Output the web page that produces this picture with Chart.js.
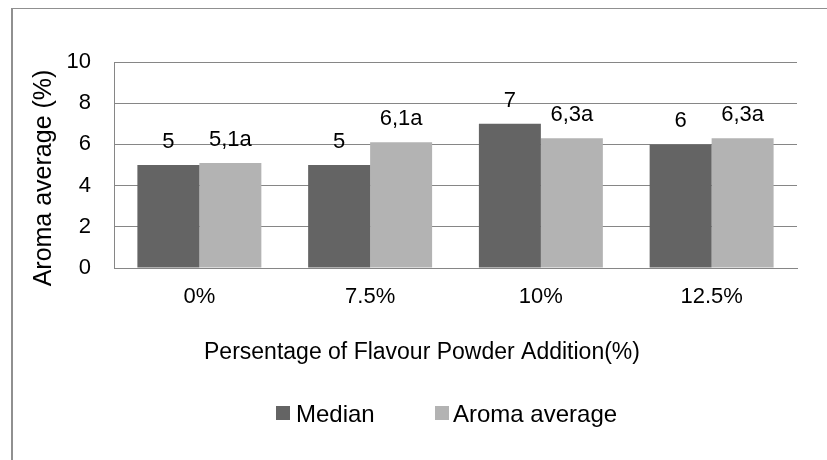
<!DOCTYPE html>
<html>
<head>
<meta charset="utf-8">
<script src="https://cdn.jsdelivr.net/npm/chart.js@4.4.0/dist/chart.umd.min.js"></script>
<style>
    html, body { margin: 0; padding: 0; background: #fff; }
    #wrap { position: relative; width: 827px; height: 460px; overflow: hidden; }
    #frame {
        position: absolute; left: 11px; top: 8px; width: 900px; height: 500px;
        border-left: 2px solid #909090; border-top: 1px solid #909090;
    }
    canvas { position: absolute; left: 0; top: 0; }
</style>
</head>
<body>
<div id="wrap">
    <div id="frame"></div>
    <canvas id="chart" width="827" height="460"></canvas>
</div>
<script>
// Chart data
const categories = ['0%', '7.5%', '10%', '12.5%'];
const medianValues = [5, 5, 7, 6];
const aromaValues = [5.1, 6.1, 6.3, 6.3];
const medianLabels = ['5', '5', '7', '6'];
const aromaLabels = ['5,1a', '6,1a', '6,3a', '6,3a'];
const seriesNames = ['Median', 'Aroma average'];
const xTitle = 'Persentage of Flavour Powder Addition(%)';
const yTitle = 'Aroma average (%)';

const FONT = '"Liberation Sans", Arial, sans-serif';
const GRID = '#868686';
const COLORS = ['#646464', '#b3b3b3'];

// Value labels, axis titles and legend drawn on top of the bars
const annotate = {
    id: 'annotate',
    afterDatasetsDraw(chart) {
        const ctx = chart.ctx;
        ctx.save();
        ctx.fillStyle = '#000';
        ctx.font = '22px ' + FONT;
        ctx.textAlign = 'center';
        ctx.textBaseline = 'alphabetic';

        [medianLabels, aromaLabels].forEach((labels, di) => {
            chart.getDatasetMeta(di).data.forEach((bar, i) => {
                ctx.fillText(labels[i], bar.x, bar.y - 17);
            });
        });

        // x axis title
        ctx.font = '23px ' + FONT;
        ctx.fillText(xTitle, 422, 359);

        // y axis title
        ctx.save();
        ctx.font = '25px ' + FONT;
        ctx.translate(51, 178);
        ctx.rotate(-Math.PI / 2);
        ctx.fillText(yTitle, 0, 0);
        ctx.restore();

        // legend
        ctx.font = '24px ' + FONT;
        ctx.textAlign = 'left';
        const items = [[276, 296], [435, 453]];
        items.forEach(([bx, tx], i) => {
            ctx.fillStyle = COLORS[i];
            ctx.fillRect(bx, 406, 14, 14);
            ctx.fillStyle = '#000';
            ctx.fillText(seriesNames[i], tx, 422);
        });
        ctx.restore();
    }
};

new Chart(document.getElementById('chart'), {
    type: 'bar',
    data: {
        labels: categories,
        datasets: [
            { label: seriesNames[0], data: medianValues, backgroundColor: COLORS[0] },
            { label: seriesNames[1], data: aromaValues, backgroundColor: COLORS[1] }
        ]
    },
    options: {
        responsive: false,
        animation: false,
        layout: { padding: { top: 62, right: 30, left: 0, bottom: 72 } },
        datasets: {
            bar: { categoryPercentage: 0.726, barPercentage: 1, borderWidth: 0 }
        },
        plugins: {
            legend: { display: false },
            tooltip: { enabled: false }
        },
        scales: {
            y: {
                min: 0,
                max: 10,
                afterFit(scale) { scale.width = 114; },
                ticks: {
                    stepSize: 2,
                    padding: 23,
                    color: '#000',
                    font: { family: FONT, size: 22 }
                },
                grid: { color: GRID, drawTicks: false },
                border: { color: GRID }
            },
            x: {
                afterFit(scale) { scale.height = 120; },
                ticks: {
                    padding: 16,
                    color: '#000',
                    font: { family: FONT, size: 22 }
                },
                grid: { display: false, drawTicks: false },
                border: { color: GRID }
            }
        }
    },
    plugins: [annotate]
});
</script>
</body>
</html>
